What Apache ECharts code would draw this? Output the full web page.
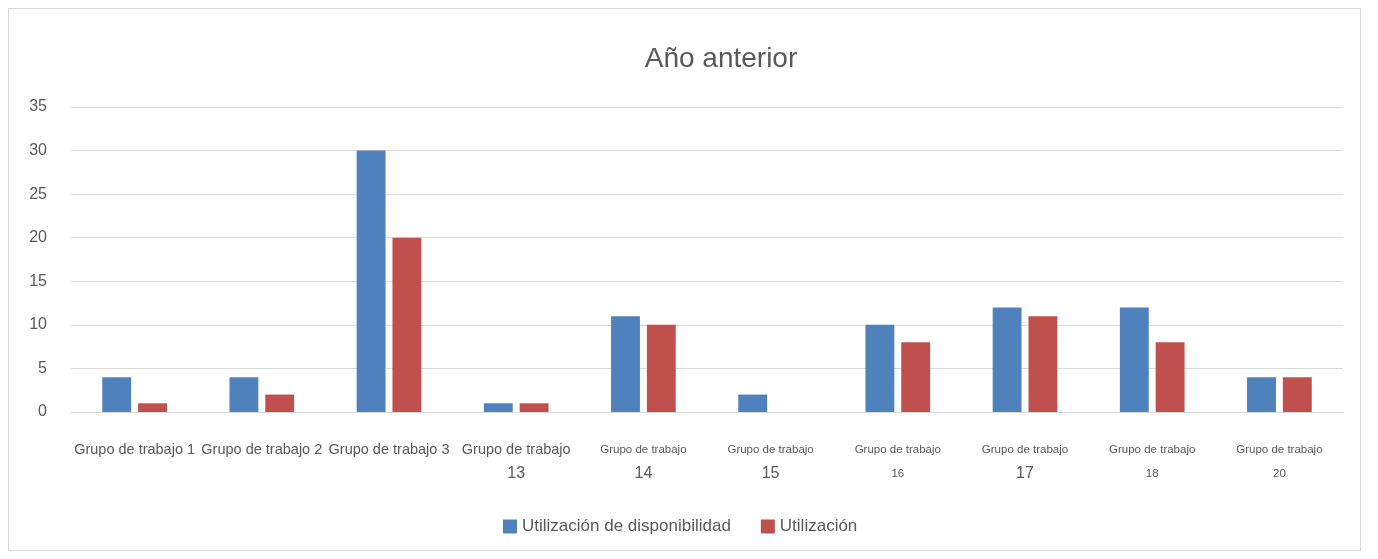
<!DOCTYPE html>
<html>
<head>
<meta charset="utf-8">
<script src="https://cdn.jsdelivr.net/npm/echarts@6/dist/echarts.min.js"></script>
<style>
html, body { margin: 0; padding: 0; background: #fff; }
#chart01 { position: absolute; left: 8px; top: 8px; width: 1353px; height: 543px; border: 1px solid #d9d9d9; box-sizing: border-box; }
</style>
</head>
<body>
<div id="chart01"></div>
<script>
var categories = ["Grupo de trabajo 1", "Grupo de trabajo 2", "Grupo de trabajo 3", "Grupo de trabajo 13", "Grupo de trabajo 14",
    "Grupo de trabajo 15", "Grupo de trabajo 16", "Grupo de trabajo 17", "Grupo de trabajo 18", "Grupo de trabajo 20"];
var disponibilidad = [4, 4, 30, 1, 11, 2, 10, 12, 12, 4];
var utilizacion = [1, 2, 20, 1, 10, 0, 8, 11, 8, 4];
var seriesNames = ["Utilización de disponibilidad", "Utilización"];

// label layout as in the original: first three on one line, the rest wrapped
// 'b' = big number on 2nd line, 's' = small
var wrapStyle = ["one", "one", "one", "b13", "b", "b", "s", "b", "s", "s"];

var myChart01 = echarts.init(document.getElementById('chart01'));
var option = {
    textStyle: { fontFamily: "Liberation Sans, Arial, sans-serif" },
    title: {
        text: "Año anterior",
        left: 707,
        top: 31,
        textAlign: "center",
        textStyle: { fontSize: 28, fontWeight: "normal", color: "#595959" }
    },
    legend: {
        data: seriesNames,
        bottom: 10,
        left: 489,
        itemWidth: 14,
        itemHeight: 14,
        itemGap: 30,
        icon: "rect",
        textStyle: { fontSize: 17, color: "#595959" }
    },
    grid: { left: 62, right: 17, top: 98, bottom: 138, containLabel: false },
    xAxis: {
        type: "category",
        data: categories,
        axisLine: { lineStyle: { color: "#d9d9d9" } },
        axisTick: { show: false },
        axisLabel: {
            interval: 0,
            margin: 26,
            color: "#595959",
            formatter: function (value, idx) {
                var s = wrapStyle[idx];
                if (s === "one") return "{a|" + value + "}";
                var parts = value.split(" ");
                var num = parts.pop();
                var head = parts.join(" ");
                if (s === "b13") return "{a|" + head + "}\n{big|" + num + "}";
                if (s === "b") return "{sm|" + head + "}\n{big|" + num + "}";
                return "{sm|" + head + "}\n{smn|" + num + "}";
            },
            rich: {
                a: { fontSize: 14.5, color: "#595959", lineHeight: 24 },
                sm: { fontSize: 11.5, color: "#595959", lineHeight: 24 },
                big: { fontSize: 16, color: "#595959", lineHeight: 24 },
                smn: { fontSize: 11.5, color: "#595959", lineHeight: 24 }
            }
        }
    },
    yAxis: {
        type: "value",
        min: 0,
        max: 35,
        interval: 5,
        axisLine: { show: false },
        axisTick: { show: false },
        splitLine: { lineStyle: { color: "#d9d9d9" } },
        axisLabel: { fontSize: 16, color: "#595959", margin: 24 }
    },
    series: [
        {
            name: seriesNames[0],
            type: "bar",
            data: disponibilidad,
            barWidth: "22.7%",
            barGap: "24%",
            itemStyle: { color: "#4f81bd" }
        },
        {
            name: seriesNames[1],
            type: "bar",
            data: utilizacion,
            barWidth: "22.7%",
            itemStyle: { color: "#c0504d" }
        }
    ]
};
myChart01.setOption(option);
</script>
</body>
</html>
